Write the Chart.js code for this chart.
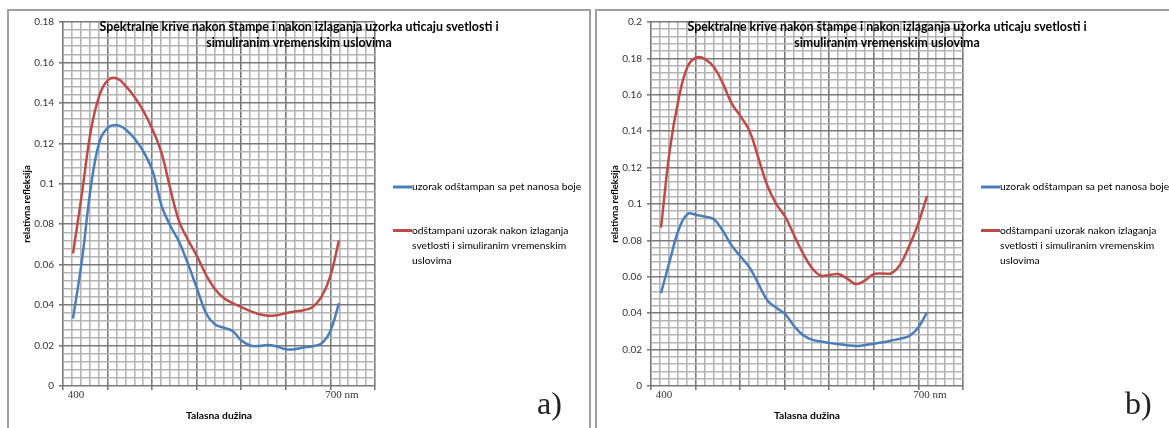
<!DOCTYPE html>
<html><head><meta charset="utf-8">
<script src="https://cdn.jsdelivr.net/npm/chart.js@4"></script>
<style>
html,body{margin:0;padding:0;background:#fff;overflow:hidden;width:1169px;height:428px;}
.frame{position:absolute;top:9px;height:440px;border:2px solid #a0a0a0;box-sizing:border-box;}
canvas{position:absolute;top:0;}
</style></head><body>
<div class="frame" style="left:7px;width:584px"></div>
<div class="frame" style="left:595px;width:600px"></div>
<canvas id="chartA" width="590" height="428" style="left:0"></canvas>
<canvas id="chartB" width="581" height="428" style="left:588px"></canvas>
<script>
// ---- data ----
const wavelengths = [400,410,420,430,440,450,460,470,480,490,500,510,520,530,540,550,560,570,580,590,600,610,620,630,640,650,660,670,680,690,700];
const printedA = [0.0334,0.062,0.098,0.121,0.128,0.129,0.1266,0.122,0.1155,0.106,0.089,0.079,0.071,0.060,0.048,0.036,0.0305,0.0288,0.0272,0.0225,0.0200,0.0198,0.0203,0.0195,0.0182,0.0182,0.0190,0.0197,0.0210,0.0270,0.0410];
const exposedA = [0.0655,0.095,0.126,0.144,0.1515,0.152,0.148,0.1425,0.1355,0.1265,0.115,0.097,0.081,0.072,0.064,0.055,0.048,0.0435,0.041,0.039,0.037,0.0355,0.0347,0.035,0.036,0.0368,0.0375,0.039,0.044,0.054,0.072];
const printedB = [0.051,0.069,0.086,0.0945,0.094,0.093,0.0915,0.085,0.077,0.071,0.065,0.056,0.047,0.043,0.0395,0.033,0.028,0.0255,0.0245,0.0237,0.023,0.0224,0.022,0.0225,0.0232,0.024,0.025,0.026,0.0275,0.032,0.0405];
const exposedB = [0.087,0.13,0.158,0.1755,0.1805,0.1795,0.175,0.166,0.155,0.148,0.140,0.125,0.110,0.100,0.093,0.083,0.073,0.065,0.0607,0.061,0.0615,0.059,0.056,0.058,0.0615,0.0618,0.062,0.067,0.077,0.089,0.1045];
const seriesLabels = ['uzorak odštampan sa pet nanosa boje','odštampani uzorak nakon izlaganja svetlosti i simuliranim vremenskim uslovima'];
const seriesColors = ['#4a7ebb','#be4b48'];
const chartTitle = ['Spektralne krive nakon štampe i nakon izlaganja uzorka uticaju svetlosti i','simuliranim vremenskim uslovima'];
const xTickValues = [400,700];
const xTickLabels = ['400','700 nm'];
const xAxisTitle = 'Talasna dužina';
const yAxisTitle = 'relativna refleksija';
const yMaxA = 0.18, yMaxB = 0.2, yStep = 0.02;
const panelLetters = ['a)','b)'];

// ---- layout constants ----
const PLOT_LEFT = 63, PLOT_RIGHT = 375, PLOT_TOP = 22, PLOT_BOTTOM = 386;
const X_MIN = 388.7, X_MAX = 740.6;

function wrapText(ctx, text, maxW){
  const words = text.split(' '); const lines = []; let cur = '';
  words.forEach(w => {
    const t = cur ? cur + ' ' + w : w;
    if (ctx.measureText(t).width > maxW && cur) { lines.push(cur); cur = w; } else cur = t;
  });
  if (cur) lines.push(cur);
  return lines;
}

const overlay = {
  id: 'overlay',
  afterDraw(chart, args, opts) {
    const ctx = chart.ctx;
    ctx.save();
    ctx.fillStyle = '#000';
    ctx.font = 'bold 12.4px Lato';
    ctx.textAlign = 'center'; ctx.textBaseline = 'middle';
    chartTitle.forEach((t, i) => ctx.fillText(t, 299, 27 + i * 16));
    ctx.font = '10.3px Lato'; ctx.textAlign = 'left';
    let y = 187;
    chart.data.datasets.forEach(ds => {
      ctx.strokeStyle = ds.borderColor; ctx.lineWidth = 3;
      ctx.beginPath(); ctx.moveTo(393, y); ctx.lineTo(412, y); ctx.stroke();
      const lines = wrapText(ctx, ds.label, 185);
      ctx.fillStyle = '#000';
      lines.forEach((l, i) => ctx.fillText(l, 412, y + i * 15));
      y += 43.5;
    });
    ctx.font = '32px "Liberation Serif"'; ctx.textBaseline = 'alphabetic'; ctx.fillStyle = '#222';
    ctx.fillText(opts.letter, 537, 414);
    ctx.restore();
  }
};

function makeChart(id, printed, exposed, yMax, letter, canvasWidth){
  const nMinorY = Math.round(yMax / yStep) * 5;
  return new Chart(document.getElementById(id), {
    type: 'line',
    data: {
      datasets: [
        { label: seriesLabels[0], xAxisID: 'x', yAxisID: 'y', data: wavelengths.map((w, i) => ({x: w, y: printed[i]})), borderColor: seriesColors[0], borderWidth: 2.5, pointRadius: 0, tension: 0.4, fill: false },
        { label: seriesLabels[1], xAxisID: 'x', yAxisID: 'y', data: wavelengths.map((w, i) => ({x: w, y: exposed[i]})), borderColor: seriesColors[1], borderWidth: 2.5, pointRadius: 0, tension: 0.4, fill: false }
      ]
    },
    options: {
      responsive: false, animation: false, devicePixelRatio: 1,
      layout: { padding: { left: 0, top: PLOT_TOP, right: canvasWidth - PLOT_RIGHT, bottom: 0 } },
      plugins: { legend: { display: false }, title: { display: false }, tooltip: { enabled: false }, overlay: { letter } },
      scales: {
        xg: {
          type: 'linear', position: 'bottom', min: 0, max: 35, weight: 0,
          ticks: { display: false, stepSize: 1 },
          border: { display: false },
          grid: {
            color: c => c.tick && c.tick.value % 5 === 0 ? '#7a7a7a' : '#b4b4b4',
            lineWidth: 1.6,
            drawTicks: true, tickLength: 4,
            tickColor: c => c.tick && c.tick.value % 5 === 0 ? '#7a7a7a' : 'rgba(0,0,0,0)'
          },
          afterFit: s => { s.height = 0; }
        },
        x: {
          type: 'linear', position: 'bottom', min: X_MIN, max: X_MAX, weight: 1,
          border: { display: false },
          grid: { display: false, drawTicks: false },
          afterBuildTicks: s => { s.ticks = xTickValues.map(v => ({ value: v })); },
          ticks: {
            padding: 3, labelOffset: 3, color: '#333', maxRotation: 0, autoSkip: false,
            font: { family: '"Liberation Serif"', size: 11 },
            callback: v => xTickLabels[xTickValues.indexOf(v)]
          },
          title: { display: true, text: xAxisTitle, color: '#000', font: { family: 'Lato', size: 10.3, weight: 'bold' }, padding: { top: 0, bottom: 6 } },
          afterFit: s => { s.height = 428 - PLOT_BOTTOM; }
        },
        yg: {
          type: 'linear', position: 'left', min: 0, max: nMinorY, weight: 0,
          ticks: { display: false, stepSize: 1 },
          border: { display: false },
          grid: { color: c => c.tick && c.tick.value % 5 === 0 ? 'rgba(0,0,0,0)' : '#b4b4b4', lineWidth: 1.6, drawTicks: false },
          afterFit: s => { s.width = 0; }
        },
        y: {
          type: 'linear', position: 'left', min: 0, max: yMax, weight: 1,
          border: { display: false },
          grid: { color: '#7a7a7a', lineWidth: 1.6, drawTicks: true, tickLength: 4, tickColor: '#7a7a7a' },
          ticks: { stepSize: yStep, padding: 5, color: '#333', font: { family: 'Lato', size: 10 },
            callback: v => String(Number(v.toFixed(2))) },
          title: { display: true, text: yAxisTitle, color: '#000', font: { family: 'Lato', size: 9.5, weight: 'bold' }, padding: { top: 21, bottom: 0 } },
          afterFit: s => { s.width = PLOT_LEFT; }
        }
      }
    },
    plugins: [overlay]
  });
}

Chart.defaults.font.family = 'Lato';
makeChart('chartA', printedA, exposedA, yMaxA, panelLetters[0], 590);
makeChart('chartB', printedB, exposedB, yMaxB, panelLetters[1], 581);
</script>
</body></html>
